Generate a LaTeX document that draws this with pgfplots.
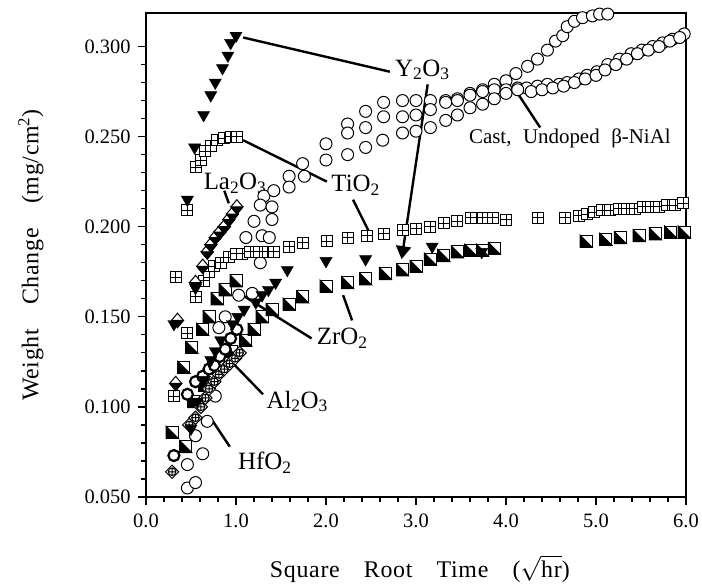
\documentclass[border=0pt]{standalone}
\usepackage{pgfplots}
\pgfplotsset{compat=1.18}
\usepackage{fontspec}
\setmainfont{Liberation Serif}
\newfontfamily\lblfont[WordSpace=3.6,LetterSpace=3]{Liberation Serif}
\newfontfamily\castfont[WordSpace=2.2]{Liberation Serif}
\usetikzlibrary{arrows.meta}

% square with a plus inside
\pgfdeclareplotmark{sqplus}{%
  \pgfpathrectangle{\pgfpoint{-\pgfplotmarksize}{-\pgfplotmarksize}}{\pgfpoint{2\pgfplotmarksize}{2\pgfplotmarksize}}%
  \pgfusepathqfillstroke
  \pgfpathmoveto{\pgfpoint{-\pgfplotmarksize}{0pt}}\pgfpathlineto{\pgfpoint{\pgfplotmarksize}{0pt}}%
  \pgfpathmoveto{\pgfpoint{0pt}{-\pgfplotmarksize}}\pgfpathlineto{\pgfpoint{0pt}{\pgfplotmarksize}}%
  \pgfusepathqstroke}
% square, lower left half black
\pgfdeclareplotmark{sqhalf}{%
  \pgfpathrectangle{\pgfpoint{-\pgfplotmarksize}{-\pgfplotmarksize}}{\pgfpoint{2\pgfplotmarksize}{2\pgfplotmarksize}}%
  \pgfusepathqfillstroke
  \pgfscope
  \pgfpathmoveto{\pgfpoint{-\pgfplotmarksize}{\pgfplotmarksize}}%
  \pgfpathlineto{\pgfpoint{-\pgfplotmarksize}{-\pgfplotmarksize}}%
  \pgfpathlineto{\pgfpoint{\pgfplotmarksize}{-\pgfplotmarksize}}%
  \pgfpathclose
  \pgfsetfillcolor{black}\pgfusepathqfillstroke
  \endpgfscope}
% diamond, lower half black
\pgfdeclareplotmark{dhalf}{%
  \pgfpathmoveto{\pgfpoint{0pt}{1.2\pgfplotmarksize}}%
  \pgfpathlineto{\pgfpoint{\pgfplotmarksize}{0pt}}%
  \pgfpathlineto{\pgfpoint{0pt}{-1.2\pgfplotmarksize}}%
  \pgfpathlineto{\pgfpoint{-\pgfplotmarksize}{0pt}}%
  \pgfpathclose\pgfusepathqfillstroke
  \pgfscope
  \pgfpathmoveto{\pgfpoint{-\pgfplotmarksize}{0pt}}%
  \pgfpathlineto{\pgfpoint{\pgfplotmarksize}{0pt}}%
  \pgfpathlineto{\pgfpoint{0pt}{-1.2\pgfplotmarksize}}%
  \pgfpathclose
  \pgfsetfillcolor{black}\pgfusepathqfillstroke
  \endpgfscope}
% diamond with crossed circle
\pgfdeclareplotmark{dcross}{%
  \pgfpathmoveto{\pgfpoint{0pt}{1.2\pgfplotmarksize}}%
  \pgfpathlineto{\pgfpoint{1.2\pgfplotmarksize}{0pt}}%
  \pgfpathlineto{\pgfpoint{0pt}{-1.2\pgfplotmarksize}}%
  \pgfpathlineto{\pgfpoint{-1.2\pgfplotmarksize}{0pt}}%
  \pgfpathclose\pgfusepathqfillstroke
  \pgfpathcircle{\pgfpoint{0pt}{0pt}}{0.7\pgfplotmarksize}%
  \pgfpathmoveto{\pgfpoint{-0.7\pgfplotmarksize}{0pt}}\pgfpathlineto{\pgfpoint{0.7\pgfplotmarksize}{0pt}}%
  \pgfpathmoveto{\pgfpoint{0pt}{-0.7\pgfplotmarksize}}\pgfpathlineto{\pgfpoint{0pt}{0.7\pgfplotmarksize}}%
  \pgfusepathqstroke}

\begin{document}
\begin{tikzpicture}
\begin{axis}[
    name=ax,
    width=540bp, height=484bp,
    scale only axis,
    clip=false,
    xmin=0, xmax=6,
    ymin=0.05, ymax=0.3186,
    xtick={0,1,...,6},
    ytick={0.05,0.1,0.15,0.2,0.25,0.3},
    minor x tick num=4,
    minor y tick num=4,
    tick align=outside,
    xtick pos=bottom, ytick pos=left,
    major tick length=8bp, minor tick length=5bp,
    tick style={black, line width=1.3bp},
    axis line style={line width=1.8bp},
    /pgf/number format/assume math mode=true,
    ticklabel style={font=\fontsize{20.5}{20.5}\selectfont},
    xticklabel style={yshift=-5bp, /pgf/number format/.cd, fixed, fixed zerofill, precision=1},
    yticklabel style={xshift=-4bp, /pgf/number format/.cd, fixed, fixed zerofill, precision=3},
    scaled y ticks=false,
    every axis x label/.style={at={(rel axis cs:0.507,0)}, yshift=-72bp, anchor=center},
    every axis y label/.style={at={(rel axis cs:0,0.5)}, xshift=-115bp, rotate=90, anchor=center},
    label style={font=\lblfont\fontsize{24}{26}\selectfont},
    xlabel={Square Root Time ($\sqrt{\mbox{hr}}$)},
    ylabel={Weight Change (mg/cm\textsuperscript{2})},
  ]
% cast, undoped beta-NiAl (three runs)
\addplot[only marks, mark=*, mark size=6bp, mark options={fill=white, line width=1bp}] coordinates {
 (0.46,0.068) (0.55,0.084) (0.74,0.123) (0.88,0.150) (1.11,0.194) (1.31,0.217) (1.42,0.220)
 (1.59,0.228) (1.74,0.235) (2.00,0.246) (2.24,0.257) (2.44,0.264) (2.64,0.269) (2.85,0.270)
 (3.00,0.270) (3.16,0.270) (3.33,0.270) (3.46,0.271) (3.60,0.274) (3.74,0.276) (3.87,0.279)
 (4.00,0.281) (4.11,0.285) (4.24,0.289) (4.35,0.293) (4.46,0.298) (4.55,0.303) (4.63,0.306)
 (4.68,0.311) (4.76,0.314) (4.85,0.316) (4.96,0.317) (5.04,0.318) (5.13,0.318)};
\addplot[only marks, mark=*, mark size=6bp, mark options={fill=white, line width=1bp}] coordinates {
 (0.46,0.055) (0.63,0.074) (0.77,0.106) (1.03,0.162) (1.20,0.203) (1.27,0.212) (1.59,0.222)
 (1.76,0.228) (2.00,0.237) (2.24,0.252) (2.44,0.255) (2.64,0.261) (2.85,0.261) (3.00,0.262)
 (3.16,0.265) (3.33,0.269) (3.46,0.270) (3.60,0.273) (3.74,0.275) (3.87,0.276) (4.00,0.276)
 (4.13,0.277) (4.23,0.277) (4.35,0.278) (4.46,0.279) (4.59,0.279) (4.68,0.280) (4.81,0.282)
 (4.90,0.284) (5.01,0.286) (5.13,0.290) (5.26,0.293) (5.39,0.296) (5.51,0.298) (5.63,0.300)
 (5.74,0.302) (5.85,0.304) (5.98,0.307)};
\addplot[only marks, mark=*, mark size=6bp, mark options={fill=white, line width=1bp}] coordinates {
 (0.55,0.058) (0.68,0.092) (0.81,0.144) (1.18,0.163) (1.27,0.180) (1.29,0.195) (1.37,0.194)
 (1.40,0.204) (1.40,0.211) (2.24,0.240) (2.44,0.244) (2.63,0.248) (2.85,0.252) (3.00,0.253)
 (3.16,0.255) (3.33,0.259) (3.46,0.262) (3.60,0.266) (3.74,0.268) (3.87,0.271) (4.00,0.274)
 (4.13,0.276) (4.28,0.275) (4.40,0.276) (4.52,0.277) (4.64,0.278) (4.76,0.280) (4.88,0.282)
 (5.00,0.284) (5.10,0.287) (5.22,0.290) (5.34,0.293) (5.46,0.296) (5.58,0.298) (5.70,0.300)
 (5.82,0.303) (5.93,0.305)};
% TiO2
\addplot[only marks, mark=sqplus, mark size=5.5bp, mark options={fill=white, line width=1bp}] coordinates {
 (0.33,0.172) (0.46,0.209) (0.55,0.233) (0.61,0.237) (0.66,0.242) (0.72,0.245) (0.79,0.248)
 (0.87,0.249) (0.94,0.250) (1.01,0.250)};
\addplot[only marks, mark=sqplus, mark size=5.5bp, mark options={fill=white, line width=1bp}] coordinates {
 (0.31,0.106) (0.46,0.141) (0.55,0.161) (0.64,0.170) (0.70,0.175) (0.76,0.178) (0.83,0.180)
 (0.92,0.183) (1.00,0.185) (1.07,0.185) (1.16,0.186) (1.26,0.186) (1.35,0.186) (1.42,0.186)
 (1.59,0.189) (1.74,0.191) (2.01,0.192) (2.24,0.194) (2.46,0.195) (2.64,0.196) (2.85,0.198)
 (3.00,0.199) (3.16,0.200) (3.31,0.202) (3.46,0.203) (3.61,0.205) (3.74,0.205) (3.85,0.205)
 (4.00,0.204) (4.35,0.205) (4.66,0.205) (4.81,0.206) (4.90,0.207) (4.98,0.208) (5.07,0.209)
 (5.16,0.209) (5.25,0.210) (5.34,0.210) (5.43,0.210) (5.52,0.211) (5.61,0.211) (5.70,0.211)
 (5.79,0.212) (5.88,0.212) (5.97,0.213)};
% ZrO2
\addplot[only marks, mark=sqhalf, mark size=6bp, mark options={fill=white, line width=1bp}] coordinates {
 (0.29,0.086) (0.42,0.122) (0.51,0.133) (0.63,0.143) (0.70,0.150) (0.79,0.160) (0.88,0.165)
 (1.00,0.170)};
\addplot[only marks, mark=sqhalf, mark size=6bp, mark options={fill=white, line width=1bp}] coordinates {
 (0.44,0.078) (0.53,0.103) (0.65,0.112) (0.80,0.124) (0.95,0.131) (1.11,0.137) (1.20,0.143)
 (1.29,0.150) (1.40,0.154) (1.59,0.157) (1.74,0.161) (2.00,0.167) (2.24,0.169) (2.44,0.171)
 (2.66,0.174) (2.85,0.176) (3.00,0.178) (3.16,0.182) (3.31,0.184) (3.46,0.186) (3.61,0.187)
 (3.74,0.187) (3.87,0.188) (4.89,0.192) (5.11,0.193) (5.27,0.194) (5.48,0.195) (5.66,0.196)
 (5.83,0.197) (5.98,0.197)};
% La2O3
\addplot[only marks, mark=dhalf, mark size=6bp, mark options={fill=white, line width=1bp}] coordinates {
 (0.35,0.148) (0.55,0.169) (0.63,0.178) (0.68,0.186) (0.72,0.190) (0.77,0.194) (0.82,0.197)
 (0.87,0.200) (0.92,0.204) (0.96,0.207) (1.01,0.211)};
\addplot[only marks, mark=dhalf, mark size=6bp, mark options={fill=white, line width=1bp}] coordinates {
 (0.33,0.113)};
% Al2O3
\addplot[only marks, mark=*, mark size=5.5bp, mark options={fill=white, line width=2.2bp}] coordinates {
 (0.31,0.073) (0.46,0.107) (0.55,0.114) (0.63,0.117) (0.70,0.121) (0.76,0.123) (0.82,0.128)
 (0.88,0.132) (0.94,0.138) (1.01,0.143)};
% HfO2
\addplot[only marks, mark=dcross, mark size=5.5bp, mark options={fill=white, line width=1bp}] coordinates {
 (0.29,0.064) (0.48,0.090) (0.55,0.094) (0.61,0.100) (0.66,0.105) (0.70,0.110) (0.76,0.114)
 (0.81,0.118) (0.87,0.121) (0.93,0.124) (0.99,0.127) (1.04,0.130)};
% Y2O3
\addplot[only marks, mark=triangle*, mark size=7bp, mark options={rotate=180, fill=black}] coordinates {
 (0.46,0.215) (0.54,0.244) (0.64,0.262) (0.72,0.273) (0.77,0.280) (0.85,0.288) (0.91,0.295)
 (0.94,0.302) (1.00,0.306)};
\addplot[only marks, mark=triangle*, mark size=7bp, mark options={rotate=180, fill=black}] coordinates {
 (0.31,0.146) (0.55,0.166) (1.57,0.176) (2.00,0.181) (2.44,0.182) (3.18,0.189) (3.73,0.186)};
\addplot[only marks, mark=triangle*, mark size=7bp, mark options={rotate=180, fill=black}] coordinates {
 (0.50,0.088) (0.57,0.103) (0.65,0.115) (0.72,0.126) (0.77,0.131) (0.83,0.137) (0.96,0.146)
 (1.02,0.150) (1.09,0.154) (1.22,0.158) (1.29,0.162) (1.36,0.165) (1.44,0.169)};

% annotations
\begin{scope}[every node/.style={font=\fontsize{25}{25}\selectfont, inner sep=0pt}]
\node at (axis cs:3.07,0.287) {Y\textsubscript{2}O\textsubscript{3}};
\node at (axis cs:2.33,0.223) {TiO\textsubscript{2}};
\node at (axis cs:0.99,0.224) {La\textsubscript{2}O\textsubscript{3}};
\node at (axis cs:2.18,0.138) {ZrO\textsubscript{2}};
\node at (axis cs:1.68,0.103) {Al\textsubscript{2}O\textsubscript{3}};
\node at (axis cs:1.32,0.069) {HfO\textsubscript{2}};
\node[font=\castfont\fontsize{21}{21}\selectfont] at (axis cs:4.71,0.249) {Cast, Undoped β-NiAl};
\end{scope}
\begin{scope}[line width=2.4bp]
\draw (axis cs:1.08,0.305) -- (axis cs:2.71,0.286);
\draw[-{Triangle[width=15bp,length=13bp]}] (axis cs:3.13,0.279) -- (axis cs:2.84,0.182);
\draw (axis cs:1.08,0.248) -- (axis cs:2.01,0.225);
\draw (axis cs:2.30,0.215) -- (axis cs:2.50,0.195);
\draw (axis cs:0.87,0.220) -- (axis cs:0.92,0.213);
\draw (axis cs:1.84,0.138) -- (axis cs:1.04,0.163);
\draw (axis cs:2.19,0.162) -- (axis cs:2.29,0.148);
\draw (axis cs:1.30,0.107) -- (axis cs:0.97,0.124);
\draw (axis cs:0.93,0.078) -- (axis cs:0.73,0.093);
\draw (axis cs:4.13,0.274) -- (axis cs:4.38,0.255);
\end{scope}
\end{axis}
\pgfresetboundingbox
\path[use as bounding box] ([shift={(-146bp,-88bp)}]ax.south west) rectangle ([shift={(16bp,13bp)}]ax.north east);
\end{tikzpicture}
\end{document}
